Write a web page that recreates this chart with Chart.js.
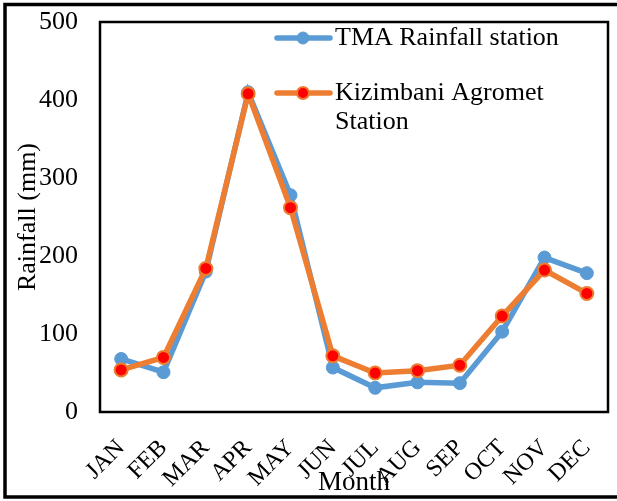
<!DOCTYPE html>
<html>
<head>
<meta charset="utf-8">
<script src="https://cdn.jsdelivr.net/npm/chart.js@4"></script>
<style>
  html, body { margin: 0; padding: 0; background: #fff; }
  #wrap { width: 617px; height: 501px; }
</style>
</head>
<body>
<div id="wrap"><canvas id="mychart" width="617" height="501"></canvas></div>
<script>
// values
var months = ['JAN', 'FEB', 'MAR', 'APR', 'MAY', 'JUN', 'JUL', 'AUG', 'SEP', 'OCT', 'NOV', 'DEC'];
var tmaRain = [68, 51, 180, 410, 278, 57, 31, 38, 37, 103, 198, 178];
var kizRain = [54, 70, 184, 408, 262, 72, 50, 53, 60, 123, 182, 152];
var seriesNames = ['TMA Rainfall station', 'Kizimbani Agromet Station'];
var legendLines = [['TMA Rainfall station'], ['Kizimbani Agromet', 'Station']];
var yTicks = [0, 100, 200, 300, 400, 500];

var serif = '"Liberation Serif", "Times New Roman", serif';

// plot box, outer frame and in-plot legend
var framePlugin = {
    id: 'frame',
    afterDraw: function (chart) {
        var ctx = chart.ctx;
        var a = chart.chartArea;
        ctx.save();
        ctx.strokeStyle = '#000';
        ctx.lineWidth = 2.5;
        ctx.strokeRect(a.left, a.top, a.right - a.left, a.bottom - a.top);
        ctx.lineWidth = 3.5;
        ctx.strokeRect(5, 4.5, 640, 492.5);

        // legend
        var rows = [45, 100];
        chart.data.datasets.forEach(function (ds, i) {
            var y = rows[i] - 7;
            ctx.strokeStyle = ds.borderColor;
            ctx.lineWidth = 5.5;
            ctx.lineCap = 'round';
            ctx.beginPath();
            ctx.moveTo(277, y);
            ctx.lineTo(330, y);
            ctx.stroke();
            ctx.beginPath();
            ctx.arc(303, y, 6, 0, Math.PI * 2);
            ctx.fillStyle = ds.pointBackgroundColor;
            ctx.fill();
            ctx.lineWidth = ds.pointBorderWidth;
            ctx.strokeStyle = ds.pointBorderColor;
            ctx.stroke();
            ctx.fillStyle = '#000';
            ctx.font = '26px ' + serif;
            ctx.textBaseline = 'alphabetic';
            legendLines[i].forEach(function (t, j) {
                ctx.fillText(t, 335, rows[i] + j * 29);
            });
        });
        ctx.restore();
    }
};

var ctx = document.getElementById('mychart').getContext('2d');
var myChart = new Chart(ctx, {
    type: 'line',
    data: {
        labels: months,
        datasets: [{
            label: seriesNames[0],
            data: tmaRain,
            borderColor: '#5B9BD5',
            backgroundColor: '#5B9BD5',
            borderWidth: 5.5,
            pointRadius: 6.5,
            pointBackgroundColor: '#5B9BD5',
            pointBorderColor: '#5B9BD5',
            pointBorderWidth: 1,
            tension: 0,
            order: 1
        }, {
            label: seriesNames[1],
            data: kizRain,
            borderColor: '#ED7D31',
            backgroundColor: '#ED7D31',
            borderWidth: 5.5,
            pointRadius: 6.5,
            pointBackgroundColor: '#FF0000',
            pointBorderColor: '#ED7D31',
            pointBorderWidth: 2,
            tension: 0,
            order: 0
        }]
    },
    options: {
        responsive: false,
        animation: false,
        layout: { padding: { top: 22, right: 9, left: 0, bottom: 0 } },
        plugins: {
            legend: { display: false },
            tooltip: { enabled: false }
        },
        scales: {
            x: {
                offset: true,
                grid: { display: false, drawTicks: false },
                border: { display: false },
                ticks: {
                    color: '#000',
                    font: { family: serif, size: 24 },
                    minRotation: 45,
                    maxRotation: 45,
                    padding: 22,
                    autoSkip: false
                },
                title: {
                    display: true,
                    text: 'Month',
                    color: '#000',
                    font: { family: serif, size: 27, lineHeight: 1 },
                    padding: { top: 0, bottom: 5 }
                },
                afterFit: function (scale) {
                    scale.height = 89;
                    scale.paddingLeft = 0;
                    scale.paddingRight = 0;
                }
            },
            y: {
                min: 0,
                max: 500,
                afterBuildTicks: function (scale) {
                    scale.ticks = yTicks.map(function (v) { return { value: v }; });
                },
                grid: { display: false, drawTicks: false },
                border: { display: false },
                ticks: {
                    color: '#000',
                    font: { family: serif, size: 26 },
                    padding: 22
                },
                title: {
                    display: true,
                    text: 'Rainfall (mm)',
                    color: '#000',
                    font: { family: serif, size: 26, lineHeight: 1 },
                    padding: { top: 15, bottom: 0 }
                },
                afterFit: function (scale) {
                    scale.width = 100;
                    scale.paddingTop = 0;
                    scale.paddingBottom = 0;
                }
            }
        }
    },
    plugins: [framePlugin]
});
</script>
</body>
</html>
